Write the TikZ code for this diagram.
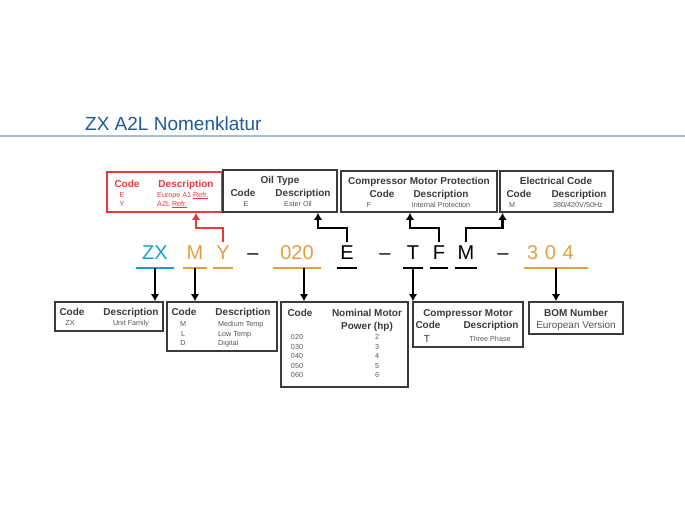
\documentclass[tikz,border=0pt]{standalone}
\usepackage{fontspec}
\setmainfont{Liberation Sans}
\usetikzlibrary{arrows.meta, positioning}
\definecolor{titleblue}{HTML}{1F5A96}
\definecolor{rulegray}{HTML}{A7BBD1}
\definecolor{zxblue}{HTML}{1B9ED0}
\definecolor{codeorange}{HTML}{E0A040}
\definecolor{boxgray}{HTML}{3A3A3A}
\definecolor{rowgray}{HTML}{555555}
\definecolor{redbox}{HTML}{E8383D}
\tikzstyle{box}=[draw=boxgray,line width=1.6pt,rectangle,inner sep=0pt]
\tikzstyle{hd}=[anchor=base,inner sep=0pt,font=\fontsize{10}{12}\selectfont\bfseries,text=boxgray]
\tikzstyle{rowtxt}=[anchor=base,inner sep=0pt,font=\fontsize{7.2}{8}\selectfont,text=rowgray]
\tikzstyle{rowleft}=[rowtxt,anchor=base west]
\tikzstyle{plain}=[anchor=base,inner sep=0pt,font=\fontsize{10}{12}\selectfont]
\tikzstyle{letter}=[anchor=base,inner sep=0pt,text height=17pt,text depth=9pt,font=\fontsize{20}{24}\selectfont]
\tikzstyle{ul}=[line width=1.5pt]
\tikzstyle{link}=[->,line width=2.2pt]
\newcommand{\refr}{\underline{Refr.}}

\begin{document}
\begin{tikzpicture}[x=1pt,y=-1pt,>={Latex[length=7pt,width=8.5pt]}]
    % pixel coordinates, y runs down
    \useasboundingbox (0,0) rectangle (685,514);
    \node[anchor=base west,inner sep=0pt,font=\fontsize{19}{22}\selectfont,text=titleblue] (title) at (85,130) {ZX A2L Nomenklatur};
    \draw[rulegray,line width=2pt] (0,136) -- (685,136);

    % boxes above
    \node[box,draw=redbox,minimum width=115pt,minimum height=40pt] (refr) at (164.5,192) {};
    \node[box,minimum width=114pt,minimum height=42pt] (oil) at (280,191) {};
    \node[box,minimum width=156pt,minimum height=41pt] (cmp) at (419,191.5) {};
    \node[box,minimum width=113pt,minimum height=41pt] (elec) at (556.5,191.5) {};

    \node[hd,text=redbox] (refr-c) at (127,187) {Code};
    \node[hd,text=redbox] (refr-d) at (186,187) {Description};
    \node[rowtxt,text=redbox] (refr-e) at (122,197) {E};
    \node[rowleft,text=redbox] (refr-e1) at (157,197) {Europe A1 \refr};
    \node[rowtxt,text=redbox] (refr-y) at (122,206) {Y};
    \node[rowleft,text=redbox] (refr-y1) at (157,206) {A2L \refr};

    \node[hd] (oil-h) at (280,183) {Oil Type};
    \node[hd] (oil-c) at (243,196) {Code};
    \node[hd] (oil-d) at (303,196) {Description};
    \node[rowtxt] (oil-e) at (246,206) {E};
    \node[rowtxt] (oil-e1) at (298,206) {Ester Oil};

    \node[hd] (cmp-h) at (419,184) {Compressor Motor Protection};
    \node[hd] (cmp-c) at (382,197) {Code};
    \node[hd] (cmp-d) at (441,197) {Description};
    \node[rowtxt] (cmp-f) at (369,207) {F};
    \node[rowtxt] (cmp-f1) at (441,207) {Internal Protection};

    \node[hd] (elec-h) at (556,184) {Electrical Code};
    \node[hd] (elec-c) at (519,197) {Code};
    \node[hd] (elec-d) at (579,197) {Description};
    \node[rowtxt] (elec-m) at (512,207) {M};
    \node[rowtxt] (elec-m1) at (578,207) {380/420V/50Hz};

    % model code
    \node[letter,text=zxblue,minimum width=37pt] (zx) at (155,259) {ZX};
    \node[letter,text=codeorange,minimum width=24pt] (m) at (195,259) {M};
    \node[letter,text=codeorange,minimum width=20pt] (y) at (223,259) {Y};
    \node[letter] (d1) at (253,259) {\textendash};
    \node[letter,text=codeorange,minimum width=48pt] (hp) at (297,259) {020};
    \node[letter,minimum width=20pt] (e) at (347,259) {E};
    \node[letter] (d2) at (385,259) {\textendash};
    \node[letter,minimum width=19pt] (t) at (413,259) {T};
    \node[letter,minimum width=18pt] (f) at (439,259) {F};
    \node[letter,minimum width=21pt] (mm) at (466,259) {M};
    \node[letter] (d3) at (503,259) {\textendash};
    \node[letter,text=codeorange,text width=58pt,inner xsep=3pt,align=left] (bomn) at (556,259) {3 0 4};

    \draw[ul,zxblue] (zx.south west) -- (zx.south east);
    \foreach \n in {m,y,hp,bomn}
        \draw[ul,codeorange] (\n.south west) -- (\n.south east);
    \foreach \n in {e,t,f,mm}
        \draw[ul] (\n.south west) -- (\n.south east);

    % boxes below
    \node[box,minimum width=108pt,minimum height=29pt] (fam) at (109,316.5) {};
    \node[box,minimum width=110pt,minimum height=49pt] (temp) at (222,326.5) {};
    \node[box,minimum width=127pt,minimum height=85pt] (pow) at (344.5,344.5) {};
    \node[box,minimum width=110pt,minimum height=45pt] (mot) at (468,324.5) {};
    \node[box,minimum width=94pt,minimum height=32pt] (bom) at (576,318) {};

    \node[hd] (fam-c) at (72,315) {Code};
    \node[hd] (fam-d) at (131,315) {Description};
    \node[rowtxt] (fam-zx) at (70,325) {ZX};
    \node[rowtxt] (fam-zx1) at (131,325) {Unit Family};

    \node[hd] (temp-c) at (184,315) {Code};
    \node[hd] (temp-d) at (243,315) {Description};
    \foreach \c/\d/\yy in {M/Medium Temp/326,L/Low Temp/336,D/Digital/345} {
        \node[rowtxt] (temp-\c) at (183,\yy) {\c};
        \node[rowleft] (temp-\c1) at (218,\yy) {\d};
    }

    \node[hd] (pow-c) at (300,316) {Code};
    \node[hd] (pow-n) at (367,316) {Nominal Motor};
    \node[hd] (pow-p) at (367,329) {Power (hp)};
    \foreach \c/\p [count=\i from 0] in {020/2,030/3,040/4,050/5,060/6} {
        \node[rowtxt] (pow-\c) at (297,{339.5+9.6*\i}) {\c};
        \node[rowtxt] (pow-\c h) at (377,{339.5+9.6*\i}) {\p};
    }

    \node[hd] (mot-h) at (468,316) {Compressor Motor};
    \node[hd] (mot-c) at (428,328) {Code};
    \node[hd] (mot-d) at (491,328) {Description};
    \node[plain,text=boxgray] (mot-t) at (427,342) {T};
    \node[rowtxt] (mot-t1) at (490,341) {Three Phase};

    \node[hd] (bom-h) at (576,316) {BOM Number};
    \node[plain,text=rowgray] (bom-v) at (576,328) {European Version};

    % connectors
    \draw[link] (zx.south) -- (zx.south |- fam.north);
    \draw[link] (m.south) -- (m.south |- temp.north);
    \draw[link] ([xshift=7pt]hp.south) -- ([xshift=7pt]hp.south |- pow.north);
    \draw[link] (t.south) -- (t.south |- mot.north);
    \draw[link] (bomn.south) -- (bomn.south |- bom.north);
    \draw[link,redbox] (y.north) -- ++(0,-14) -| ([xshift=31.5pt]refr.south);
    \draw[link] (e.north) -- ++(0,-14) -| ([xshift=38pt]oil.south);
    \draw[link] (f.north) -- ++(0,-14) -| ([xshift=-9pt]cmp.south);
    \draw[link] (mm.north) -- ++(0,-14) -| ([xshift=-54pt]elec.south);
\end{tikzpicture}
\end{document}
